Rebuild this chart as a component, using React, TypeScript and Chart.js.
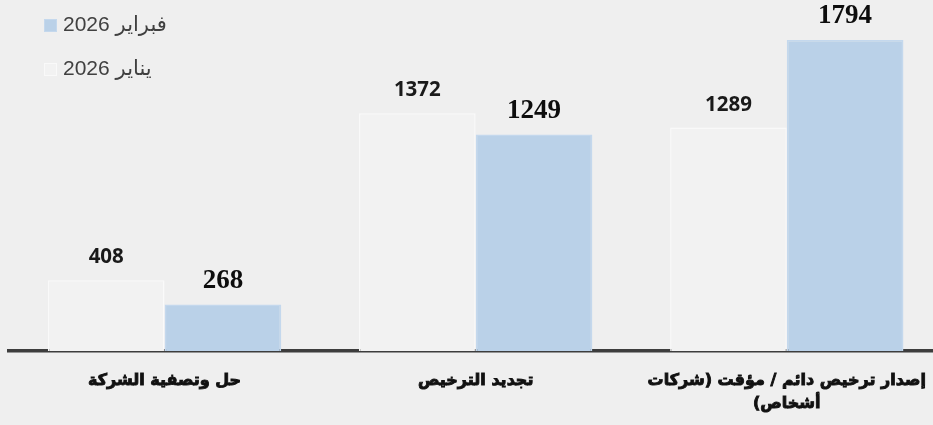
import React, { useEffect, useRef } from 'react';
import { Chart, registerables } from 'chart.js';

Chart.register(...registerables);

const categories: (string | string[])[] = [
  'حل وتصفية الشركة',
  'تجديد الترخيص',
  ['إصدار ترخيص دائم / مؤقت (شركات', 'أشخاص)'],
];
const seriesLabels = ['يناير 2026', 'فبراير 2026'];
const janValues = [408, 1372, 1289];
const febValues = [268, 1249, 1794];
const yMax = 2025;

const JAN_FILL = '#f2f2f2';
const JAN_BORDER = '#f9f9f9';
const FEB_FILL = '#bad1e8';
const FEB_BORDER = '#c4d8ed';

const valueLabels = {
  id: 'valueLabels',
  afterDatasetsDraw(chart: any) {
    const ctx = chart.ctx;
    chart.data.datasets.forEach((ds: any, di: number) => {
      const meta = chart.getDatasetMeta(di);
      const font =
        di === 0
          ? '700 20.5px "Open Sans", Roboto, sans-serif'
          : '700 27px "Liberation Serif", "Times New Roman", serif';
      meta.data.forEach((bar: any, i: number) => {
        ctx.save();
        ctx.font = font;
        ctx.fillStyle = di === 0 ? '#1a1a1a' : '#0d0d0d';
        ctx.textAlign = 'center';
        ctx.textBaseline = 'alphabetic';
        ctx.direction = 'ltr';
        ctx.fillText(String(ds.data[i]), bar.x, bar.y - 17);
        ctx.restore();
      });
    });
  },
};

const cornerLegend = {
  id: 'cornerLegend',
  afterDraw(chart: any) {
    const ctx = chart.ctx;
    const items = chart.data.datasets
      .map((ds: any) => ({ text: ds.label, fill: ds.backgroundColor, stroke: ds.borderColor }))
      .reverse();
    items.forEach((it: any, k: number) => {
      const cy = 25.5 + k * 44;
      ctx.save();
      ctx.fillStyle = it.fill;
      ctx.fillRect(44, cy - 6.5, 13, 13);
      ctx.strokeStyle = it.stroke;
      ctx.lineWidth = 1;
      ctx.strokeRect(44.5, cy - 6, 12, 12);
      ctx.font = '400 21px "Liberation Sans", Arial, "DejaVu Sans", sans-serif';
      ctx.fillStyle = '#404040';
      ctx.textAlign = 'left';
      ctx.textBaseline = 'middle';
      ctx.direction = 'rtl';
      ctx.fillText(it.text, 63, cy);
      ctx.restore();
    });
  },
};

export default function App() {
  const ref = useRef<HTMLCanvasElement | null>(null);

  useEffect(() => {
    if (!ref.current) return;
    const chart = new Chart(ref.current, {
      type: 'bar',
      data: {
        labels: categories,
        datasets: [
          {
            label: seriesLabels[0],
            data: janValues,
            backgroundColor: JAN_FILL,
            borderColor: JAN_BORDER,
            borderWidth: 1.5,
          },
          {
            label: seriesLabels[1],
            data: febValues,
            backgroundColor: FEB_FILL,
            borderColor: FEB_BORDER,
            borderWidth: 1.5,
          },
        ],
      },
      options: {
        responsive: false,
        animation: false,
        devicePixelRatio: 1,
        layout: { padding: { left: 9, right: 0, top: 0, bottom: 0 } },
        datasets: { bar: { categoryPercentage: 0.75, barPercentage: 1.0 } },
        plugins: {
          legend: { display: false },
          tooltip: { enabled: false },
        },
        scales: {
          x: {
            grid: { display: false, drawTicks: false },
            border: { display: true, color: '#3d3d3d', width: 3.5 },
            ticks: {
              color: '#111111',
              textStrokeColor: '#111111',
              textStrokeWidth: 0.9,
              padding: 18,
              maxRotation: 0,
              autoSkip: false,
              font: {
                family: '"DejaVu Sans", sans-serif',
                size: 16,
                weight: 'bold',
                lineHeight: 1.45,
              },
            },
            afterFit: (scale: any) => {
              scale.height = 74;
            },
          },
          y: {
            display: false,
            min: 0,
            max: yMax,
            grid: { display: false },
          },
        },
      },
      plugins: [valueLabels, cornerLegend],
    });
    return () => chart.destroy();
  }, []);

  return (
    <div
      style={{
        position: 'fixed',
        left: 0,
        top: 0,
        width: 933,
        height: 425,
        overflow: 'hidden',
        background: '#efefef',
      }}
    >
      <canvas
        ref={ref}
        width={944}
        height={425}
        style={{ position: 'absolute', left: 0, top: 0, width: 944, height: 425, direction: 'rtl' }}
      />
    </div>
  );
}
